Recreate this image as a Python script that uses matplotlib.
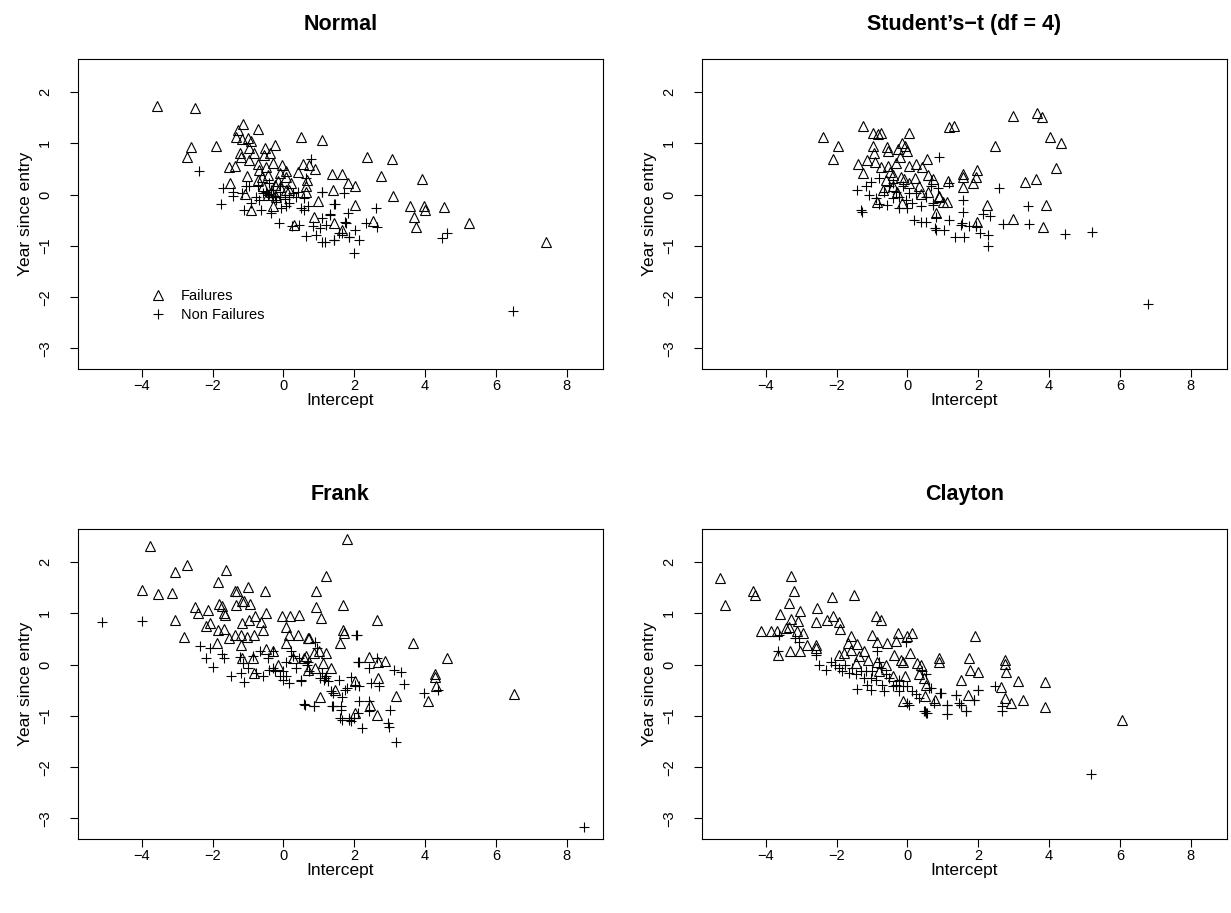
import numpy as np
import matplotlib
matplotlib.use('Agg')
import matplotlib.pyplot as plt

plt.rcParams['font.family'] = ['Liberation Sans', 'DejaVu Sans']

# === DATA ===
titles = ["Normal", "Student\u2019s\u2212t (df = 4)", "Frank", "Clayton"]

normal_fail = [
    (-3.58, 1.72), (-2.49, 1.69), (-2.60, 0.92), (-2.73, 0.73), (-1.90, 0.94), (-1.15, 1.38),
    (-1.27, 1.26), (-1.34, 1.13), (-1.17, 1.08), (-1.01, 1.11), (-0.91, 1.05), (-0.73, 1.28),
    (-1.24, 0.81), (-1.19, 0.73), (-0.98, 0.90), (-0.82, 0.82), (-0.96, 0.68), (-0.52, 0.90),
    (-0.25, 0.96), (-0.56, 0.77), (-0.38, 0.81), (-1.53, 0.53), (-1.37, 0.55), (-0.73, 0.59),
    (-0.30, 0.61), (-0.04, 0.58), (0.49, 1.12), (1.09, 1.07), (-0.68, 0.48), (-0.49, 0.53),
    (-1.04, 0.37), (0.08, 0.46), (0.55, 0.59), (0.73, 0.58), (0.90, 0.50), (0.40, 0.45),
    (0.66, 0.29), (0.64, 0.16), (0.64, 0.05), (1.37, 0.40), (1.64, 0.40), (1.41, 0.10),
    (1.83, 0.22), (2.03, 0.16), (-1.50, 0.23), (-1.09, 0.01), (-0.91, -0.29), (-0.16, 0.27),
    (-0.11, 0.42), (0.06, 0.35), (0.22, 0.22), (0.98, -0.12), (0.85, -0.43), (1.43, -0.55),
    (1.66, -0.69), (2.03, -0.21), (0.31, -0.59), (-0.30, -0.23), (-0.58, 0.16), (-0.73, 0.29),
    (-0.44, 0.38), (-0.25, 0.19), (0.08, 0.09), (2.35, 0.73), (3.06, 0.70), (2.75, 0.36),
    (3.91, 0.30), (3.08, -0.03), (3.56, -0.23), (3.98, -0.23), (4.00, -0.30), (4.52, -0.25),
    (3.68, -0.44), (3.75, -0.64), (5.25, -0.55), (7.42, -0.93), (2.54, -0.51),
    (-0.35, 0.05), (-0.20, -0.05), (-0.45, 0.00), (0.15, 0.10), (-0.60, 0.35), (-0.10, 0.15),
]
normal_nonfail = [
    (-2.39, 0.46), (-1.71, 0.12), (-1.77, -0.18), (-1.43, -0.03), (-1.10, -0.30), (-0.63, -0.30),
    (-0.35, -0.36), (-0.13, -0.55), (-1.17, 0.03), (-0.96, 0.16), (-0.77, -0.04), (-0.49, 0.06),
    (-0.41, 0.01), (-0.30, -0.04), (-0.21, -0.10), (0.03, -0.09), (0.17, -0.17), (0.26, 0.03),
    (0.40, 0.06), (0.50, -0.27), (0.78, 0.69), (0.64, 0.32), (1.10, 0.06), (1.44, -0.18),
    (1.31, -0.38), (1.08, -0.46), (0.24, -0.61), (0.45, -0.59), (0.64, -0.81), (0.92, -0.79),
    (1.16, -0.92), (1.44, -0.88), (1.75, -0.53), (1.83, -0.35), (1.98, -1.13), (1.72, 0.03),
    (0.83, -0.62), (1.02, -0.66), (1.21, -0.59), (-0.91, -0.17), (-0.68, -0.10), (-0.58, 0.03),
    (-0.30, 0.09), (-0.11, -0.04), (-0.07, -0.27), (0.08, -0.23), (-0.11, 0.16), (0.36, -0.04),
    (0.59, -0.07), (0.69, -0.23), (-1.43, 0.06), (-1.05, 0.16), (-0.73, 0.16), (-0.40, 0.22),
    (0.17, -0.04), (0.59, -0.30), (1.66, -0.75), (1.85, -0.82), (6.48, -2.26), (4.48, -0.85),
    (4.61, -0.75), (2.61, -0.27), (2.63, -0.64), (2.14, -0.88), (1.08, 0.05), (1.45, -0.18),
    (1.32, -0.40), (1.76, -0.55), (2.03, -0.68), (1.86, -0.82), (1.43, -0.88), (1.10, -0.92),
    (1.58, -0.74), (2.33, -0.55), (-0.45, 0.00), (-0.35, 0.10), (-0.25, -0.02),
]

student_fail = [
    (-2.39, 1.13), (-1.97, 0.95), (-2.09, 0.70), (-1.25, 1.34), (-0.97, 1.21), (-0.82, 1.18),
    (-0.75, 1.21), (0.03, 1.20), (-0.96, 0.95), (-0.94, 0.82), (-0.57, 0.92), (-0.54, 0.85),
    (-0.28, 0.89), (-0.16, 1.00), (-0.08, 0.95), (0.00, 0.85), (-1.41, 0.59), (-1.15, 0.68),
    (-0.92, 0.64), (-1.25, 0.43), (-0.75, 0.53), (-0.54, 0.56), (-0.33, 0.61), (-0.21, 0.74),
    (0.03, 0.55), (0.25, 0.60), (0.41, 0.53), (0.54, 0.70), (1.16, 1.31), (1.30, 1.33),
    (0.20, 0.33), (0.57, 0.38), (0.71, 0.30), (1.14, 0.26), (1.56, 0.40), (1.56, 0.35),
    (1.56, 0.14), (1.84, 0.23), (1.95, 0.48), (1.93, 0.35), (-0.42, 0.38), (-0.19, 0.35),
    (0.05, 0.22), (0.33, 0.16), (0.57, 0.06), (0.88, -0.03), (1.11, -0.14), (0.99, -0.15),
    (-0.85, -0.14), (-0.70, 0.09), (-0.16, -0.16), (0.38, 0.01), (0.80, -0.36), (-0.42, 0.16),
    (-0.61, 0.29), (2.97, 1.54), (3.65, 1.59), (3.79, 1.51), (2.47, 0.94), (4.01, 1.12),
    (4.34, 1.00), (4.18, 0.51), (3.33, 0.25), (3.63, 0.30), (3.90, -0.21), (2.97, -0.48),
    (3.84, -0.64), (2.25, -0.21), (1.96, -0.53), (0.90, -0.04), (-0.30, 0.05), (-0.50, 0.45),
    (-0.10, 0.30),
]
student_nonfail = [
    (6.80, -2.13), (5.21, -0.72), (4.44, -0.77), (3.44, -0.58), (3.40, -0.22), (2.58, 0.12),
    (2.71, -0.58), (2.26, -1.01), (2.26, -0.79), (2.06, -0.75), (2.33, -0.42), (2.12, -0.37),
    (1.58, -0.10), (1.58, -0.33), (1.54, -0.56), (1.60, -0.82), (1.34, -0.82), (1.18, -0.49),
    (1.16, 0.22), (0.90, 0.74), (1.04, -0.69), (0.78, -0.66), (1.75, -0.61), (1.94, -0.62),
    (0.38, -0.53), (0.52, -0.53), (0.67, 0.16), (0.72, -0.17), (-1.42, 0.09), (-1.18, 0.16),
    (-1.08, -0.01), (-1.32, -0.29), (-1.29, -0.33), (-0.90, -0.07), (-0.80, -0.18), (-0.57, -0.20),
    (-0.66, 0.06), (-0.42, -0.07), (-0.24, -0.27), (0.00, -0.27), (-0.05, -0.10), (0.19, -0.49),
    (0.85, 0.12), (-0.52, 0.16), (-0.33, 0.06), (-0.14, 0.16), (0.05, 0.03), (0.24, 0.03),
    (-0.80, 0.32), (-1.04, 0.25), (-0.24, -0.04), (-0.42, 0.22), (0.14, -0.17), (0.38, -0.23),
    (0.80, -0.43), (1.51, -0.59), (1.93, -0.62), (0.80, -0.69), (0.66, 0.29), (0.71, -0.20),
    (0.52, -0.04),
]

frank_fail = [
    (-3.77, 2.31), (-3.99, 1.46), (-3.55, 1.37), (-3.15, 1.39), (-3.05, 1.81), (-2.71, 1.95),
    (-3.07, 0.88), (-2.82, 0.53), (-2.51, 1.13), (-2.42, 1.00), (-2.13, 1.06), (-1.85, 1.61),
    (-1.62, 1.84), (-1.83, 1.18), (-1.74, 1.14), (-1.67, 1.01), (-1.65, 0.96), (-2.20, 0.75),
    (-2.07, 0.81), (-1.85, 0.68), (-1.67, 0.69), (-1.87, 0.42), (-1.55, 0.52), (-1.36, 1.44),
    (-1.32, 1.43), (-1.01, 1.51), (-1.17, 1.25), (-1.10, 1.25), (-1.34, 1.16), (-0.95, 1.19),
    (-0.53, 1.44), (-1.17, 0.81), (-0.96, 0.88), (-0.79, 0.94), (-0.64, 0.83), (-0.49, 1.00),
    (-0.58, 0.68), (-1.36, 0.57), (-1.20, 0.57), (-1.04, 0.53), (-0.83, 0.57), (-1.21, 0.39),
    (-0.04, 0.95), (0.19, 0.95), (0.45, 0.96), (0.08, 0.73), (0.17, 0.57), (0.40, 0.57),
    (0.08, 0.42), (0.72, 0.51), (0.92, 1.44), (0.91, 1.12), (1.21, 1.72), (1.06, 0.90),
    (1.79, 2.45), (1.68, 1.16), (1.68, 0.68), (1.70, 0.62), (1.60, 0.42), (1.00, 0.26),
    (0.87, 0.23), (1.21, 0.23), (1.13, 0.03), (1.34, -0.06), (1.46, -0.49), (1.02, -0.63),
    (-0.49, 0.31), (-0.30, 0.26), (-0.16, 0.00), (0.64, 0.16), (0.69, -0.10), (0.90, -0.06),
    (-0.83, -0.16), (-0.86, 0.13), (-1.17, 0.13), (2.02, -0.31), (2.02, -0.94), (0.26, 0.13),
    (2.64, 0.88), (3.67, 0.42), (4.62, 0.12), (4.29, -0.18), (4.29, -0.25), (4.31, -0.42),
    (4.08, -0.70), (3.18, -0.62), (2.68, -0.27), (2.42, 0.14), (2.66, 0.06), (2.88, 0.08),
    (6.51, -0.58), (2.45, -0.78), (2.63, -0.99), (0.58, 0.13), (0.70, 0.52),
]
frank_nonfail = [
    (8.48, -3.17), (2.08, 0.57), (2.12, 0.05), (2.42, -0.06), (2.63, 0.12), (3.11, -0.10),
    (3.32, -0.15), (3.39, -0.37), (2.71, -0.42), (2.47, -0.36), (2.14, -0.42), (2.12, -0.71),
    (2.42, -0.71), (2.42, -0.91), (3.01, -0.88), (2.95, -1.14), (2.99, -1.22), (3.18, -1.51),
    (2.22, -1.23), (1.86, -1.04), (1.91, -1.09), (1.60, -1.04), (1.62, -0.89), (1.36, -0.81),
    (0.85, -0.81), (0.58, -0.77), (1.39, -0.55), (1.58, -0.29), (1.75, -0.49), (1.92, -0.25),
    (3.96, -0.55), (4.35, -0.49), (0.49, -0.32), (0.96, 0.32), (1.15, -0.29), (2.09, -0.94),
    (-5.13, 0.84), (-3.99, 0.86), (-2.37, 0.37), (-2.19, 0.13), (-1.98, -0.05), (-2.07, 0.32),
    (-1.74, 0.21), (-1.67, 0.12), (-1.49, -0.23), (-1.10, -0.34), (-1.24, 0.14), (-1.13, 0.03),
    (-1.01, -0.06), (-0.87, 0.16), (-0.77, -0.16), (-0.58, -0.23), (-0.65, 0.26), (-0.44, 0.13),
    (-0.30, 0.26), (-0.30, -0.06), (-0.23, -0.13), (-0.11, -0.23), (0.00, -0.13), (0.08, -0.23),
    (0.17, -0.36), (-0.02, -0.29), (0.20, 0.26), (0.28, 0.16), (0.36, -0.06), (0.50, -0.29),
    (0.45, 0.13), (0.60, -0.78), (0.87, -0.81), (0.90, 0.45), (1.02, -0.26), (1.16, -0.27),
    (1.21, -0.23), (1.25, -0.32), (1.34, -0.52), (1.39, -0.81), (1.62, -0.81), (1.64, -0.64),
    (1.65, -1.07), (1.79, -0.45), (1.86, -1.07), (1.98, -1.04), (2.05, 0.58), (2.10, 0.06),
    (2.01, -0.39), (0.67, -0.01), (0.73, -0.13), (1.10, -0.16), (0.08, 0.06), (-0.40, -0.10),
    (-1.20, -0.16), (0.69, 0.06),
]

clayton_fail = [
    (-5.28, 1.69), (-5.16, 1.17), (-4.35, 1.43), (-4.31, 1.36), (-4.13, 0.65), (-3.84, 0.66),
    (-3.68, 0.66), (-3.66, 0.19), (-3.60, 0.99), (-3.44, 0.71), (-3.35, 0.73), (-3.30, 1.72),
    (-3.21, 1.44), (-3.33, 1.20), (-3.30, 0.89), (-3.10, 0.86), (-3.03, 1.04), (-3.11, 0.66),
    (-2.95, 0.62), (-3.32, 0.26), (-3.02, 0.26), (-2.84, 0.39), (-2.59, 0.39), (-2.58, 0.32),
    (-2.54, 1.10), (-2.59, 0.84), (-2.27, 0.88), (-2.12, 1.31), (-2.10, 0.95), (-1.92, 0.84),
    (-1.90, 0.70), (-1.52, 1.35), (-1.60, 0.55), (-1.67, 0.42), (-1.42, 0.40), (-1.93, 0.19),
    (-1.79, 0.23), (-1.58, 0.29), (-1.22, 0.27), (-0.90, 0.94), (-0.75, 0.87), (-0.99, 0.58),
    (-0.85, 0.45), (-0.59, 0.42), (-0.28, 0.62), (-0.02, 0.55), (0.12, 0.62), (-0.31, 0.47),
    (-0.38, 0.19), (-0.18, 0.10), (-0.14, 0.06), (0.07, 0.23), (0.28, 0.03), (-1.46, 0.03),
    (-1.12, 0.10), (-0.85, 0.06), (-0.61, 0.00), (-1.37, 0.16), (-0.07, -0.23), (-0.12, -0.71),
    (0.52, -0.39), (0.50, -0.62), (0.78, -0.68), (0.88, 0.12), (0.88, 0.06), (1.51, -0.29),
    (1.75, 0.13), (1.77, -0.10), (1.92, 0.55), (1.98, -0.15), (1.70, -0.60), (0.33, -0.19),
    (-0.42, -0.23), (-0.80, -0.13), (2.74, 0.10), (2.74, 0.01), (2.78, -0.15), (3.12, -0.31),
    (3.89, -0.34), (2.64, -0.44), (2.75, -0.66), (2.93, -0.75), (3.27, -0.68), (3.89, -0.82),
    (6.07, -1.07), (0.47, -0.26), (0.38, 0.00),
]
clayton_nonfail = [
    (5.18, -2.13), (2.48, -0.42), (2.67, -0.81), (2.67, -0.90), (1.98, -0.49), (1.89, -0.68),
    (1.65, -0.91), (1.51, -0.78), (1.46, -0.75), (1.37, -0.60), (1.13, -0.97), (1.13, -0.78),
    (0.92, -0.55), (0.75, -0.75), (0.52, -0.94), (0.47, -0.91), (0.61, -0.45), (0.42, -0.13),
    (-3.63, 0.58), (-3.66, 0.26), (-3.18, 0.52), (-3.07, 0.45), (-2.59, 0.19), (-2.50, 0.00),
    (-2.29, -0.10), (-2.17, 0.06), (-2.05, 0.00), (-1.93, -0.06), (-1.84, -0.13), (-1.75, 0.00),
    (-1.65, -0.16), (-1.56, -0.06), (-1.42, -0.47), (-1.46, -0.19), (-1.32, -0.13), (-1.23, -0.26),
    (-1.13, -0.39), (-1.04, -0.49), (-0.99, -0.13), (-0.90, -0.29), (-0.85, 0.26), (-0.75, -0.06),
    (-0.71, -0.39), (-0.66, -0.52), (-0.61, -0.19), (-0.52, -0.26), (-0.33, -0.39), (-0.24, -0.52),
    (-0.14, -0.42), (-0.05, 0.45), (0.00, -0.42), (0.05, -0.78), (0.00, -0.75), (0.14, -0.52),
    (0.24, -0.58), (0.33, -0.65), (0.50, -0.91), (0.54, -0.94), (0.52, -0.19), (0.66, -0.45),
    (0.94, -0.55), (1.13, -0.78), (1.13, -0.97), (1.37, -0.60), (1.51, -0.78), (1.65, -0.91),
    (1.89, -0.68), (1.98, -0.49), (-1.18, -0.13), (-1.04, -0.26), (-0.42, -0.42), (-0.24, -0.29),
    (-0.80, 0.06),
]

fails = [normal_fail, student_fail, frank_fail, clayton_fail]
nonfails = [normal_nonfail, student_nonfail, frank_nonfail, clayton_nonfail]

xticks = [-4, -2, 0, 2, 4, 6, 8]
yticks = [-3, -2, -1, 0, 1, 2]


def fmt(t):
    return f"\u2212{abs(t)}" if t < 0 else str(t)


# === PLOT ===
fig = plt.figure(figsize=(12.31, 9.13), dpi=100)
W, H = 1231.0, 913.0
boxes = [(78, 59), (702, 59), (78, 529), (702, 529)]  # pixel left/top of each axes
aw, ah = 525, 310

for i, (left, top) in enumerate(boxes):
    ax = fig.add_axes([left / W, 1 - (top + ah) / H, aw / W, ah / H])
    fx, fy = zip(*fails[i])
    nx, ny = zip(*nonfails[i])
    ax.plot(fx, fy, linestyle='none', marker='^', markersize=7, markerfacecolor='none',
            markeredgecolor='black', markeredgewidth=0.8, label='Failures')
    ax.plot(nx, ny, linestyle='none', marker='+', markersize=7, color='black',
            markeredgewidth=0.8, label='Non Failures')
    ax.set_xlim(-5.8, 9.02)
    ax.set_ylim(-3.40, 2.645)
    ax.set_xticks(xticks)
    ax.set_yticks(yticks)
    ax.set_xticklabels([fmt(t) for t in xticks])
    ax.set_yticklabels([fmt(t) for t in yticks], rotation=90, va='center')
    ax.tick_params(direction='out', length=5.5, width=0.8, labelsize=10.5)
    ax.tick_params(axis='x', pad=1.5)
    ax.tick_params(axis='y', pad=13)
    for s in ax.spines.values():
        s.set_linewidth(0.8)
    ax.set_xlabel('Intercept', fontsize=12.5, labelpad=0)
    ax.set_ylabel('Year since entry', fontsize=12.5, labelpad=4)
    ax.set_title(titles[i], fontsize=15.5, fontweight='bold', pad=21)
    if i == 0:
        ax.legend(loc='upper left', bbox_to_anchor=(0.11, 0.30), frameon=False,
                  fontsize=10.5, handlelength=1.2, handletextpad=1.0, labelspacing=0.35)

plt.savefig('out.png', dpi=100)
